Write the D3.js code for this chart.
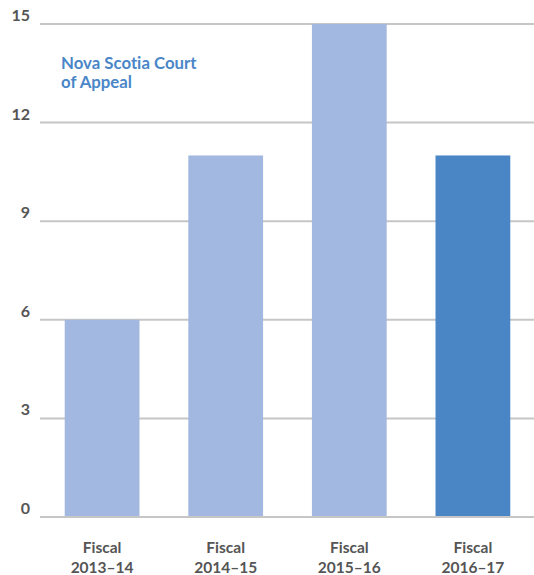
<!DOCTYPE html>
<html>
<head>
<meta charset="utf-8">
<script src="https://cdnjs.cloudflare.com/ajax/libs/d3/7.8.5/d3.min.js"></script>
<style>
  html, body { margin: 0; padding: 0; background: #fff; }
  svg { display: block; }
  text { font-family: Lato, "Open Sans", sans-serif; font-variant-ligatures: none; font-feature-settings: "liga" 0, "clig" 0; }
</style>
</head>
<body>
<svg id="chart" width="534" height="575"></svg>
<script>
// Appeals per fiscal year
const categories = ["Fiscal 2013–14", "Fiscal 2014–15", "Fiscal 2015–16", "Fiscal 2016–17"];
const values = [6, 11, 15, 11];
const highlight = [false, false, false, true];
const yTicks = [0, 3, 6, 9, 12, 15];
const title = ["Nova Scotia Court", "of Appeal"];

const svg = d3.select("#chart");
const W = 534;
const plotLeft = 40, plotRight = W;
const yTop = 24, yBottom = 517;

const y = d3.scaleLinear().domain([0, 15]).range([yBottom, yTop]);
const x = d3.scaleBand()
  .domain(categories)
  .range([40, 535])
  .paddingInner(0.395)
  .paddingOuter(0.2);

// horizontal gridlines
svg.append("g").selectAll("line")
  .data(yTicks)
  .join("line")
  .attr("x1", plotLeft)
  .attr("x2", plotRight)
  .attr("y1", d => y(d))
  .attr("y2", d => y(d))
  .attr("stroke", "#c6c6c6")
  .attr("stroke-width", 2);

// tick labels sit just above each gridline
svg.append("g").selectAll("text")
  .data(yTicks)
  .join("text")
  .attr("x", 30)
  .attr("y", d => y(d) - 3)
  .attr("text-anchor", "end")
  .attr("font-size", 16)
  .attr("font-weight", 700)
  .attr("fill", "#555")
  .text(d => d);

// bars
svg.append("g").selectAll("rect")
  .data(values)
  .join("rect")
  .attr("x", (d, i) => x(categories[i]))
  .attr("width", x.bandwidth())
  .attr("y", d => y(d))
  .attr("height", d => y(0) - y(d) - 1)
  .attr("fill", (d, i) => highlight[i] ? "#4a86c6" : "#a2b8e0");

// category labels, two lines each
const cat = svg.append("g").selectAll("text")
  .data(categories)
  .join("text")
  .attr("text-anchor", "middle")
  .attr("font-size", 15.5)
  .attr("font-weight", 700)
  .attr("fill", "#555");
cat.each(function(d) {
  const parts = [d.slice(0, d.indexOf(" ")), d.slice(d.indexOf(" ") + 1)];
  const cx = x(d) + x.bandwidth() / 2;
  d3.select(this).selectAll("tspan")
    .data(parts)
    .join("tspan")
    .attr("x", cx)
    .attr("y", (p, i) => 553 + i * 19.5)
    .text(p => p);
});

// chart title
svg.append("text")
  .attr("font-size", 16.8)
  .attr("font-weight", 700)
  .attr("fill", "#4a86c8")
  .selectAll("tspan")
  .data(title)
  .join("tspan")
  .attr("x", 61)
  .attr("y", (d, i) => 69 + i * 19)
  .text(d => d);
</script>
</body>
</html>
